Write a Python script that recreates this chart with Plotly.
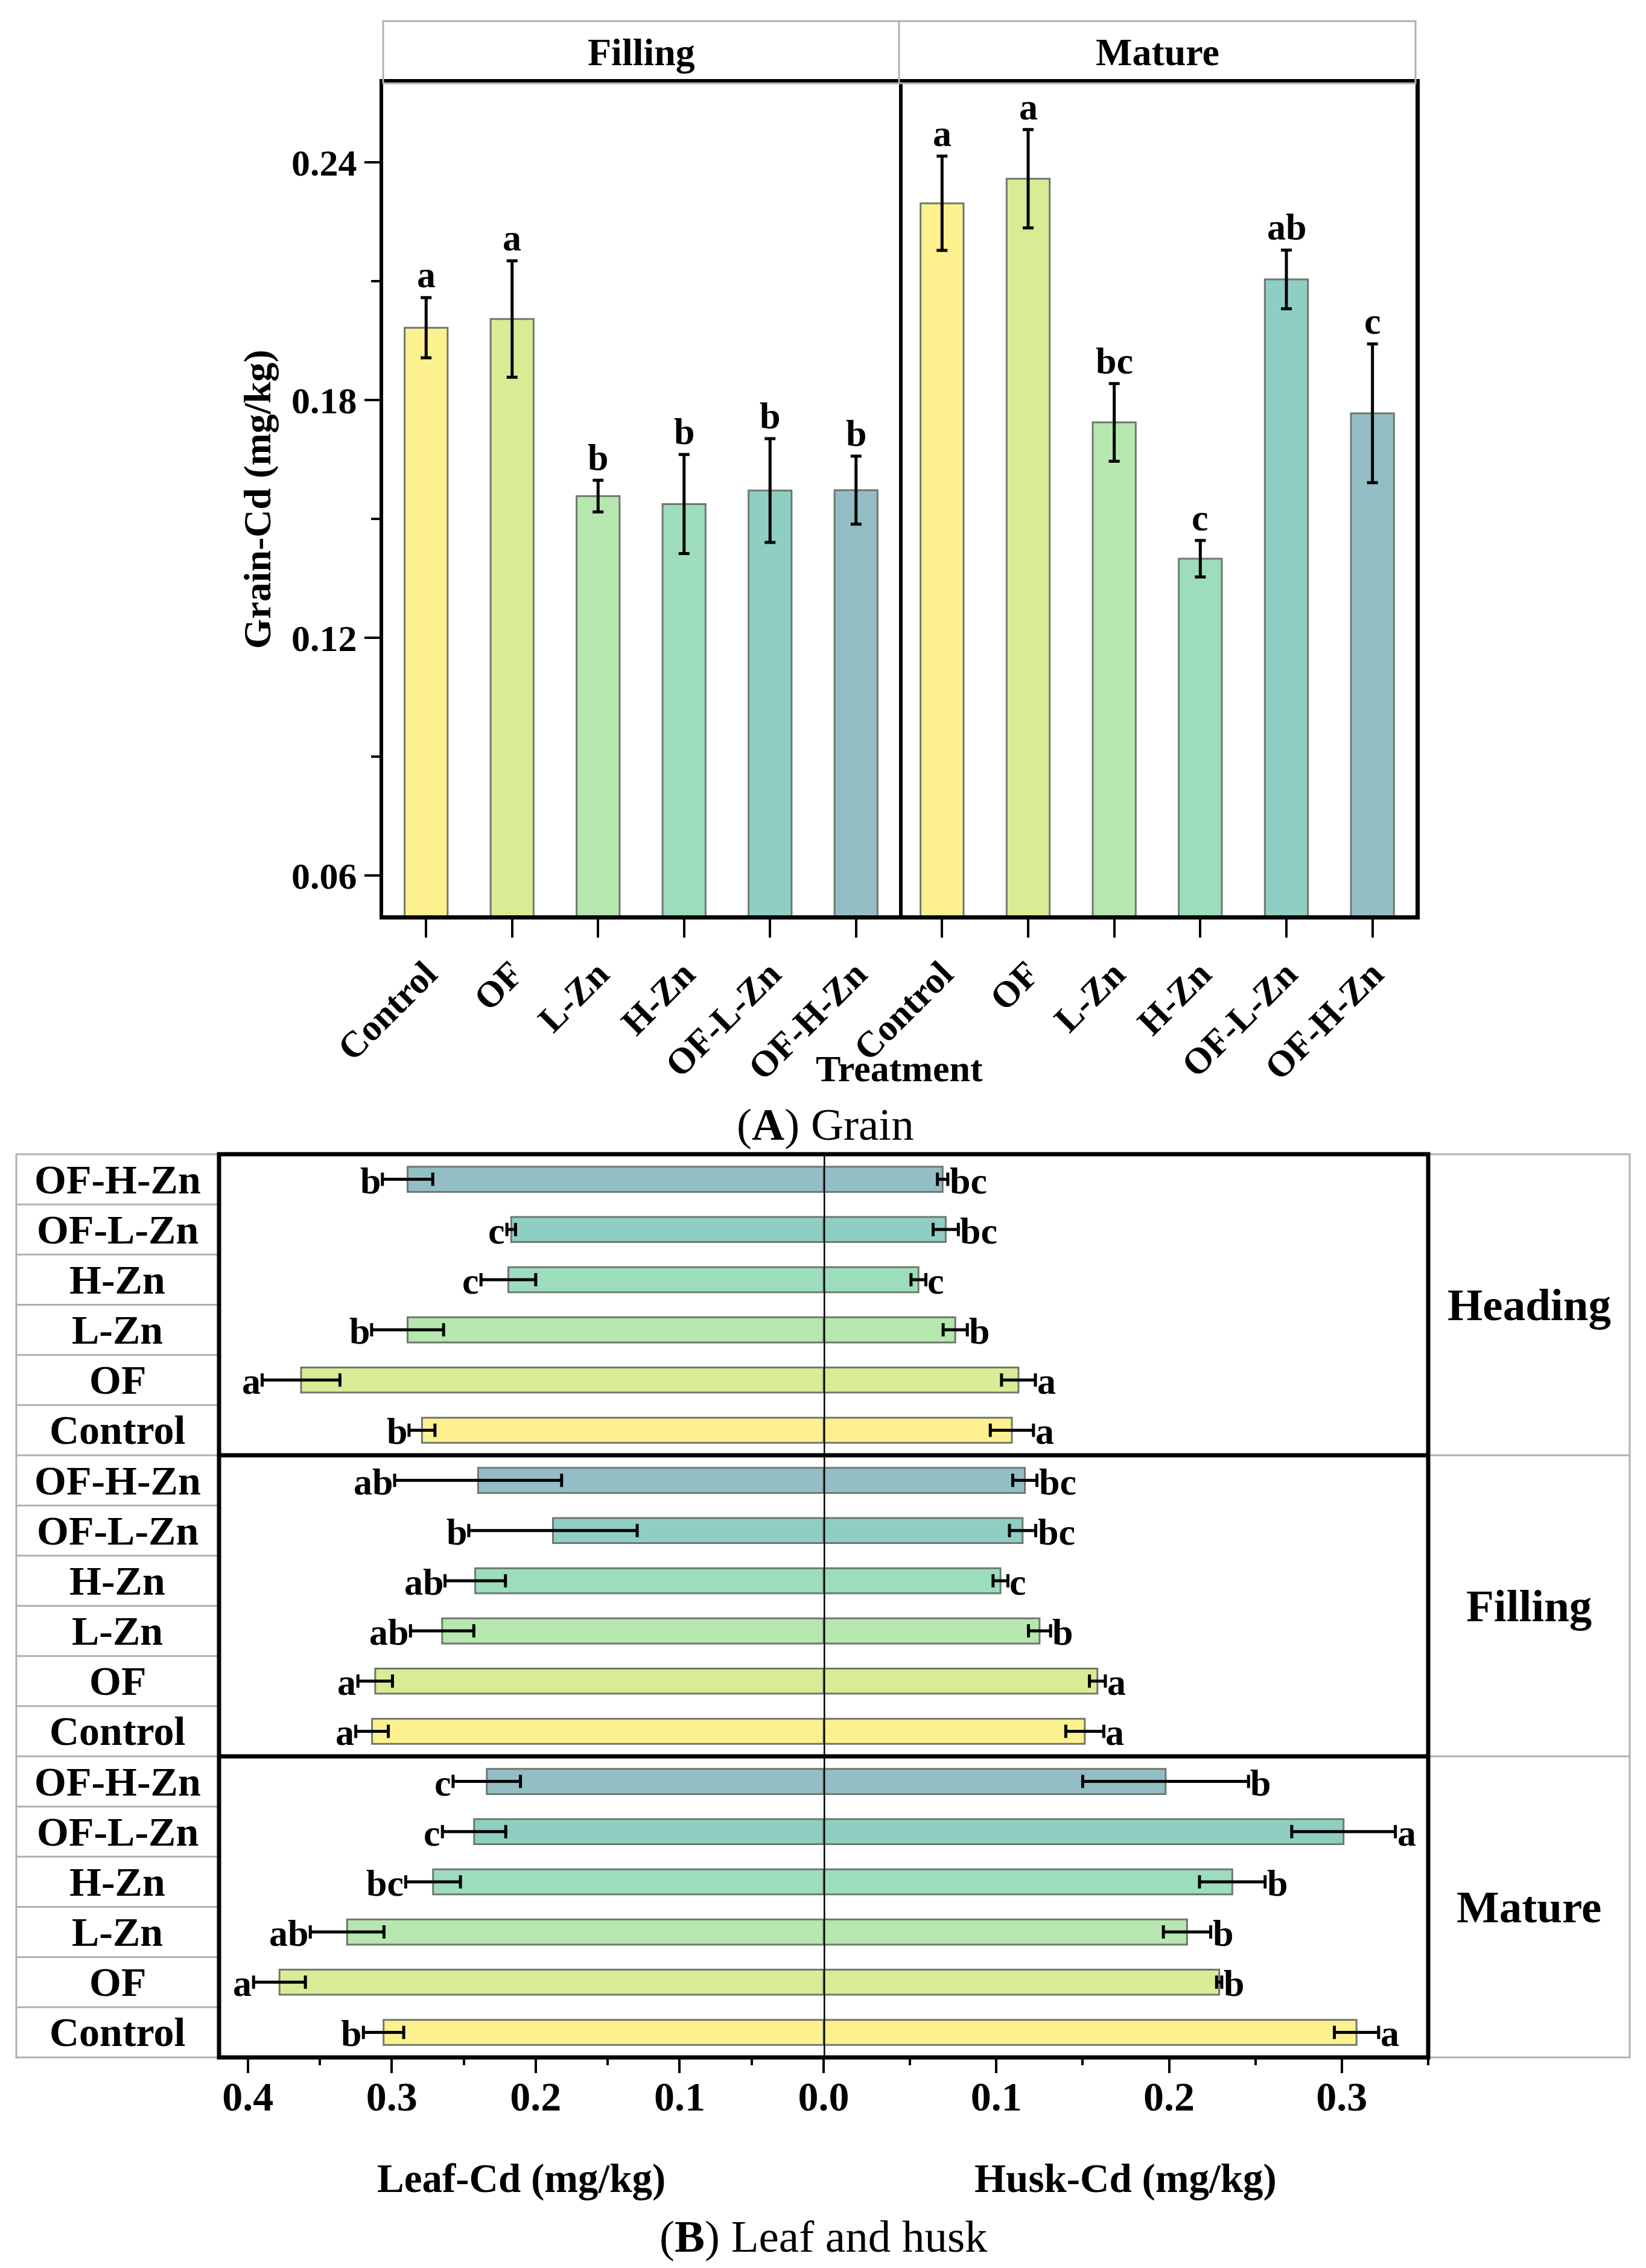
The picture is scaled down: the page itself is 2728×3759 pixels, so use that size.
import plotly.graph_objects as go

# ---------------- data ----------------
treatments = ["Control", "OF", "L-Zn", "H-Zn", "OF-L-Zn", "OF-H-Zn"]
colors = ["#FDF18F", "#D9EC95", "#B6E7AE", "#9DDDBD", "#8FCEC3", "#94BEC5"]

# Panel A: grain Cd (mg/kg)
grain_filling = [0.1983, 0.2005, 0.1558, 0.1538, 0.1572, 0.1573]
grain_filling_err = [0.0076, 0.0147, 0.0040, 0.0125, 0.0131, 0.0086]
grain_filling_sig = ["a", "a", "b", "b", "b", "b"]
grain_mature = [0.2297, 0.2359, 0.1744, 0.1400, 0.2105, 0.1767]
grain_mature_err = [0.0119, 0.0124, 0.0098, 0.0046, 0.0074, 0.0175]
grain_mature_sig = ["a", "a", "bc", "c", "ab", "c"]
grain_yticks = [0.06, 0.12, 0.18, 0.24]
grain_yminor = [0.09, 0.15, 0.21]

# Panel B: leaf and husk Cd (mg/kg), treatment order as above
stages = ["Heading", "Filling", "Mature"]
leaf_heading = [0.279, 0.363, 0.289, 0.219, 0.217, 0.289]
leaf_heading_err = [0.009, 0.027, 0.025, 0.019, 0.003, 0.0175]
leaf_heading_sig = ["b", "a", "b", "c", "c", "b"]
leaf_filling = [0.3137, 0.3115, 0.265, 0.242, 0.188, 0.240]
leaf_filling_err = [0.0113, 0.012, 0.022, 0.021, 0.0585, 0.058]
leaf_filling_sig = ["a", "a", "ab", "ab", "b", "ab"]
leaf_mature = [0.3057, 0.378, 0.331, 0.2713, 0.2428, 0.234]
leaf_mature_err = [0.014, 0.018, 0.0256, 0.019, 0.022, 0.0234]
leaf_mature_sig = ["b", "a", "ab", "bc", "c", "c"]

husk_heading = [0.109, 0.1128, 0.0762, 0.0549, 0.0707, 0.0689]
husk_heading_err = [0.0125, 0.0098, 0.007, 0.0043, 0.0073, 0.003]
husk_heading_sig = ["a", "a", "b", "c", "bc", "bc"]
husk_filling = [0.1512, 0.1585, 0.125, 0.1024, 0.1152, 0.1165]
husk_filling_err = [0.011, 0.0046, 0.0064, 0.0043, 0.0076, 0.007]
husk_filling_sig = ["a", "a", "b", "c", "bc", "bc"]
husk_mature = [0.3085, 0.229, 0.2104, 0.2366, 0.301, 0.198]
husk_mature_err = [0.0128, 0.0015, 0.0137, 0.019, 0.030, 0.048]
husk_mature_sig = ["a", "b", "b", "b", "a", "b"]

leaf_ticks = [0.0, 0.1, 0.2, 0.3, 0.4]
leaf_minor = [0.05, 0.15, 0.25, 0.35]
husk_ticks = [0.1, 0.2, 0.3]
husk_minor = [0.05, 0.15, 0.25, 0.35]

# ---------------- layout geometry (pixels) ----------------
W, H = 2728, 3759
OX, OY = 10, 10   # compensate the page's body margin
def px(x):
    return (x - OX) / W
def py(y):
    return 1 - (y - OY) / H

A_L, A_M, A_R, A_T, A_B, A_ST = 637, 1492, 2348, 140, 1519, 37
B_CL, B_L, B_C, B_R, B_SR, B_T, B_B = 29, 365, 1367, 2369, 2703, 1915, 3412

FONT = "Liberation Serif"
BOLD = dict(family=FONT, color="black", weight="bold")
REG = dict(family=FONT, color="black")

fig = go.Figure()

# ---------------- Panel A ----------------
for xa, ya, vals, errs in [("x", "y", grain_filling, grain_filling_err),
                           ("x2", "y2", grain_mature, grain_mature_err)]:
    fig.add_trace(go.Bar(
        x=treatments, y=vals, xaxis=xa, yaxis=ya,
        width=0.5, marker=dict(color=colors, line=dict(color="#6E786E", width=3)),
        error_y=dict(type="data", array=errs, color="black", thickness=5, width=9),
        showlegend=False, hoverinfo="skip"))

annotations = []
def note(**kw):
    kw.setdefault("showarrow", False)
    kw.setdefault("xanchor", "center")
    kw.setdefault("yanchor", "middle")
    annotations.append(kw)

for xa, ya, vals, errs, sigs in [("x", "y", grain_filling, grain_filling_err, grain_filling_sig),
                                 ("x2", "y2", grain_mature, grain_mature_err, grain_mature_sig)]:
    for t, v, e, s in zip(treatments, vals, errs, sigs):
        note(x=t, y=v + e, xref=xa, yref=ya, text=s, yanchor="bottom", yshift=2,
             font=dict(size=62, **BOLD))

# ---------------- Panel B ----------------
leaf_vals = [leaf_heading, leaf_filling, leaf_mature]
leaf_errs = [leaf_heading_err, leaf_filling_err, leaf_mature_err]
leaf_sigs = [leaf_heading_sig, leaf_filling_sig, leaf_mature_sig]
husk_vals = [husk_heading, husk_filling, husk_mature]
husk_errs = [husk_heading_err, husk_filling_err, husk_mature_err]
husk_sigs = [husk_heading_sig, husk_filling_sig, husk_mature_sig]

for s in range(3):
    rows = [(2 - s) * 6 + t for t in range(6)]
    fig.add_trace(go.Bar(
        x=leaf_vals[s], y=rows, orientation="h", xaxis="x3", yaxis="y3", width=0.5,
        marker=dict(color=colors, line=dict(color="#6E786E", width=3)),
        error_x=dict(type="data", array=leaf_errs[s], color="black", thickness=5, width=11),
        showlegend=False, hoverinfo="skip"))
    fig.add_trace(go.Bar(
        x=husk_vals[s], y=rows, orientation="h", xaxis="x4", yaxis="y3", width=0.5,
        marker=dict(color=colors, line=dict(color="#6E786E", width=3)),
        error_x=dict(type="data", array=husk_errs[s], color="black", thickness=5, width=11),
        showlegend=False, hoverinfo="skip"))
    for t in range(6):
        note(x=leaf_vals[s][t] + leaf_errs[s][t], y=rows[t], xref="x3", yref="y3",
             text=leaf_sigs[s][t], xanchor="right", xshift=-1, yshift=-2,
             font=dict(size=62, **BOLD))
        note(x=husk_vals[s][t] + husk_errs[s][t], y=rows[t], xref="x4", yref="y3",
             text=husk_sigs[s][t], xanchor="left", xshift=1, yshift=-2,
             font=dict(size=62, **BOLD))
        note(x=px((B_CL + B_L) / 2), y=rows[t], xref="paper", yref="y3",
             text=treatments[t], font=dict(size=68, **BOLD))
    note(x=px((B_R + B_SR) / 2), y=(2 - s) * 6 + 2.5, xref="paper", yref="y3",
         text=stages[s], font=dict(size=75, **BOLD))

# ---------------- texts ----------------
note(x=px((A_L + A_M) / 2), y=py((A_ST + A_T) / 2), xref="paper", yref="paper",
     text="Filling", font=dict(size=64, **BOLD))
note(x=px((A_M + A_R) / 2), y=py((A_ST + A_T) / 2), xref="paper", yref="paper",
     text="Mature", font=dict(size=64, **BOLD))
note(x=px(428), y=py((A_T + A_B) / 2), xref="paper", yref="paper", textangle=-90,
     text="Grain-Cd (mg/kg)", font=dict(size=64, **BOLD))
note(x=px(A_M), y=py(1773), xref="paper", yref="paper",
     text="Treatment", font=dict(size=62, **BOLD))
note(x=px(1370), y=py(1865), xref="paper", yref="paper",
     text="(<b>A</b>) Grain", font=dict(size=75, **REG))
note(x=px((B_L + B_C) / 2), y=py(3612), xref="paper", yref="paper",
     text="Leaf-Cd (mg/kg)", font=dict(size=67, **BOLD))
note(x=px((B_C + B_R) / 2), y=py(3612), xref="paper", yref="paper",
     text="Husk-Cd (mg/kg)", font=dict(size=67, **BOLD))
note(x=px(1367), y=py(3708), xref="paper", yref="paper",
     text="(<b>B</b>) Leaf and husk", font=dict(size=75, **REG))

# ---------------- shapes (frames, strips, cells) ----------------
GRAY = "#B0B0B0"
shapes = []
shapes.append(dict(type="rect", xref="paper", yref="paper", x0=px(A_L), x1=px(A_R), y0=py(A_T), y1=py(A_ST),
                   line=dict(color=GRAY, width=3)))
shapes.append(dict(type="line", xref="paper", yref="paper", x0=px(A_M), x1=px(A_M), y0=py(A_T), y1=py(A_ST),
                   line=dict(color=GRAY, width=3)))
shapes.append(dict(type="rect", xref="paper", yref="paper", x0=px(B_CL), x1=px(B_L), y0=py(B_B), y1=py(B_T),
                   line=dict(color=GRAY, width=3)))
for k in range(17):
    shapes.append(dict(type="line", xref="paper", yref="y3", x0=px(B_CL), x1=px(B_L), y0=k + 0.5, y1=k + 0.5,
                       line=dict(color=GRAY, width=3)))
shapes.append(dict(type="rect", xref="paper", yref="paper", x0=px(B_R), x1=px(B_SR), y0=py(B_B), y1=py(B_T),
                   line=dict(color=GRAY, width=3)))
for yb in [5.5, 11.5]:
    shapes.append(dict(type="line", xref="paper", yref="y3", x0=px(B_R), x1=px(B_SR), y0=yb, y1=yb,
                       line=dict(color=GRAY, width=3)))
    shapes.append(dict(type="line", xref="paper", yref="y3", x0=px(B_L), x1=px(B_R), y0=yb, y1=yb,
                       line=dict(color="black", width=7)))
shapes.append(dict(type="rect", xref="paper", yref="paper", x0=px(B_L), x1=px(B_R), y0=py(B_B), y1=py(B_T),
                   line=dict(color="black", width=7)))
shapes.append(dict(type="line", xref="x4", yref="y3 domain", x0=0, x1=0, y0=0, y1=1,
                   line=dict(color="black", width=5)))

xcat = dict(type="category", range=[-0.5, 5.5], automargin=False,
            showline=True, mirror=True, linecolor="black", linewidth=7,
            ticks="outside", ticklen=30, tickwidth=4, tickcolor="black",
            tickangle=-45, tickfont=dict(size=61, **BOLD), showgrid=False)
xnum = dict(ticks="outside", ticklen=25, tickwidth=4, tickcolor="black", tickformat=".1f",
            tickfont=dict(size=68, **BOLD), showgrid=False, zeroline=False, showline=False,
            automargin=False, ticklabelstandoff=-20)
fig.update_layout(
    width=W, height=H, margin=dict(l=0, r=0, t=0, b=0, autoexpand=False),
    paper_bgcolor="white", plot_bgcolor="white",
    font=dict(family=FONT, color="black"),
    annotations=annotations, shapes=shapes,
    xaxis=dict(domain=[px(A_L), px(A_M)], anchor="y", **xcat),
    xaxis2=dict(domain=[px(A_M), px(A_R)], anchor="y2", **xcat),
    yaxis=dict(domain=[py(A_B), py(A_T)], anchor="x", range=[0.05, 0.26], automargin=False,
               tickvals=grain_yticks, tickformat=".2f", ticks="outside", ticklen=25, tickwidth=4,
               tickcolor="black", tickfont=dict(size=62, **BOLD), showgrid=False, zeroline=False,
               showline=True, mirror=True, linecolor="black", linewidth=6,
               minor=dict(tickvals=grain_yminor, ticks="outside", ticklen=14, tickwidth=4, tickcolor="black")),
    yaxis2=dict(domain=[py(A_B), py(A_T)], anchor="x2", matches="y", showticklabels=False, automargin=False,
                showgrid=False, zeroline=False, showline=True, mirror=False, side="right",
                linecolor="black", linewidth=7, ticks=""),
    xaxis3=dict(domain=[px(B_L), px(B_C)], anchor="y3", range=[0.42, 0.0], tickvals=leaf_ticks,
                minor=dict(tickvals=leaf_minor, ticks="outside", ticklen=12, tickwidth=4, tickcolor="black"),
                **xnum),
    xaxis4=dict(domain=[px(B_C), px(B_R)], anchor="y3", range=[0.0, 0.35], tickvals=husk_ticks,
                minor=dict(tickvals=husk_minor, ticks="outside", ticklen=12, tickwidth=4, tickcolor="black"),
                **xnum),
    yaxis3=dict(domain=[py(B_B), py(B_T)], anchor="x3", range=[-0.5, 17.5], automargin=False,
                showticklabels=False, ticks="", showgrid=False, zeroline=False, showline=False),
)

fig.write_html("out.html")
